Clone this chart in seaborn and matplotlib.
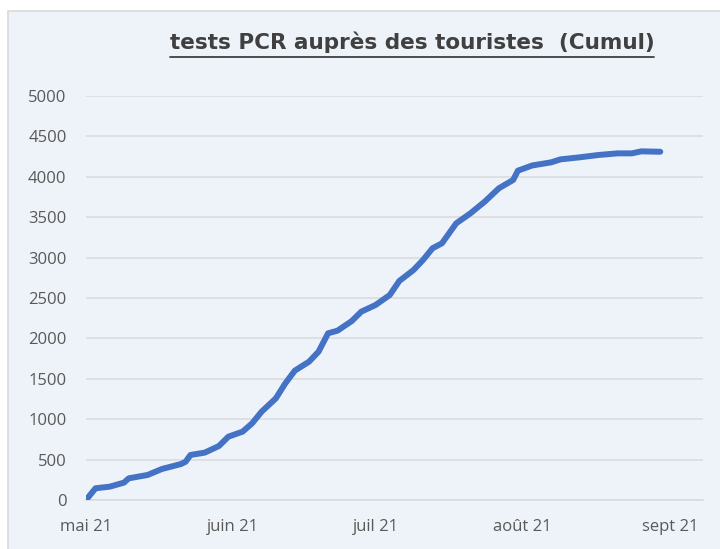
import matplotlib
matplotlib.use('Agg')
import numpy as np
import pandas as pd
import matplotlib.pyplot as plt
from matplotlib.patches import Rectangle
from matplotlib.lines import Line2D
import seaborn as sns

# data (cumulative PCR tests)
dates = ["2021-05-01", "2021-05-03", "2021-05-06", "2021-05-09", "2021-05-10", "2021-05-14",
         "2021-05-17", "2021-05-21", "2021-05-22", "2021-05-23", "2021-05-26", "2021-05-29",
         "2021-05-31", "2021-06-03", "2021-06-05", "2021-06-07", "2021-06-10", "2021-06-12",
         "2021-06-14", "2021-06-17", "2021-06-19", "2021-06-21", "2021-06-23", "2021-06-26",
         "2021-06-28", "2021-07-01", "2021-07-04", "2021-07-06", "2021-07-09", "2021-07-11",
         "2021-07-13", "2021-07-15", "2021-07-18", "2021-07-21", "2021-07-24", "2021-07-27",
         "2021-07-30", "2021-07-31", "2021-08-03", "2021-08-07", "2021-08-09", "2021-08-13",
         "2021-08-17", "2021-08-21", "2021-08-24", "2021-08-26", "2021-08-30"]
values = [0, 145, 165, 215, 268, 310, 384, 445, 474, 557, 586, 668,
          784, 846, 949, 1093, 1258, 1444, 1601, 1712, 1836, 2063, 2096, 2215,
          2331, 2413, 2537, 2710, 2846, 2970, 3115, 3177, 3424, 3548, 3692, 3858,
          3961, 4076, 4140, 4179, 4216, 4241, 4270, 4290, 4290, 4315, 4310]
month_ticks = ["2021-05-01", "2021-06-01", "2021-07-01", "2021-08-01", "2021-09-01"]
month_labels = ["mai 21", "juin 21", "juil 21", "août 21", "sept 21"]
yticks = list(range(0, 5001, 500))

df = pd.DataFrame({'date': pd.to_datetime(dates), 'cumul': values})

sns.set_style('white')
plt.rcParams['font.family'] = ['Open Sans', 'DejaVu Sans']

fig = plt.figure(figsize=(7.2, 5.49), dpi=100)
fig.patch.set_facecolor('white')
# chart area background with thin border
bg = Rectangle((8/720, -0.01), 1, (549-11)/549 + 0.01, transform=fig.transFigure,
               facecolor='#EEF3FA', edgecolor='#D9D9D9', lw=1.2, zorder=-5)
fig.patches.append(bg)

ax = fig.add_axes([86/720, 49/549, 617/720, 404/549])
ax.set_facecolor('none')
sns.lineplot(data=df, x='date', y='cumul', ax=ax, color='#4472C4', lw=4.3,
             solid_capstyle='round', solid_joinstyle='round', zorder=3)

ax.set_xlim(pd.Timestamp("2021-05-01"), pd.Timestamp("2021-09-08"))
ax.set_ylim(0, 5000)
ax.set_xticks(pd.to_datetime(month_ticks))
ax.set_xticklabels(month_labels)
ax.set_yticks(yticks)
ax.set_yticklabels([str(v) for v in yticks])
ax.grid(axis='y', color='#D9D9D9', lw=1.1)
ax.set_axisbelow(True)
for s in ['top', 'right', 'left']:
    ax.spines[s].set_visible(False)
ax.spines['bottom'].set_color('#D9D9D9')
ax.spines['bottom'].set_linewidth(1.1)
ax.tick_params(axis='x', length=5, width=1.1, color='#D9D9D9', pad=9,
               labelsize=12, labelcolor='#595959')
ax.tick_params(axis='y', length=0, pad=14, labelsize=12, labelcolor='#595959')
ax.set_xlabel('')
ax.set_ylabel('')

t = fig.text(412/720, (549-49)/549, 'tests PCR auprès des touristes  (Cumul)',
             ha='center', va='baseline', fontsize=15.5, fontweight='bold', color='#404040',
             family='DejaVu Sans')
fig.canvas.draw()
bb = t.get_window_extent(fig.canvas.get_renderer()).transformed(fig.transFigure.inverted())
uy = (549-57)/549
fig.lines.append(Line2D([bb.x0, bb.x1], [uy, uy], transform=fig.transFigure,
                        color='#404040', lw=1.3))

fig.savefig('out.png', dpi=100, facecolor=fig.get_facecolor())
